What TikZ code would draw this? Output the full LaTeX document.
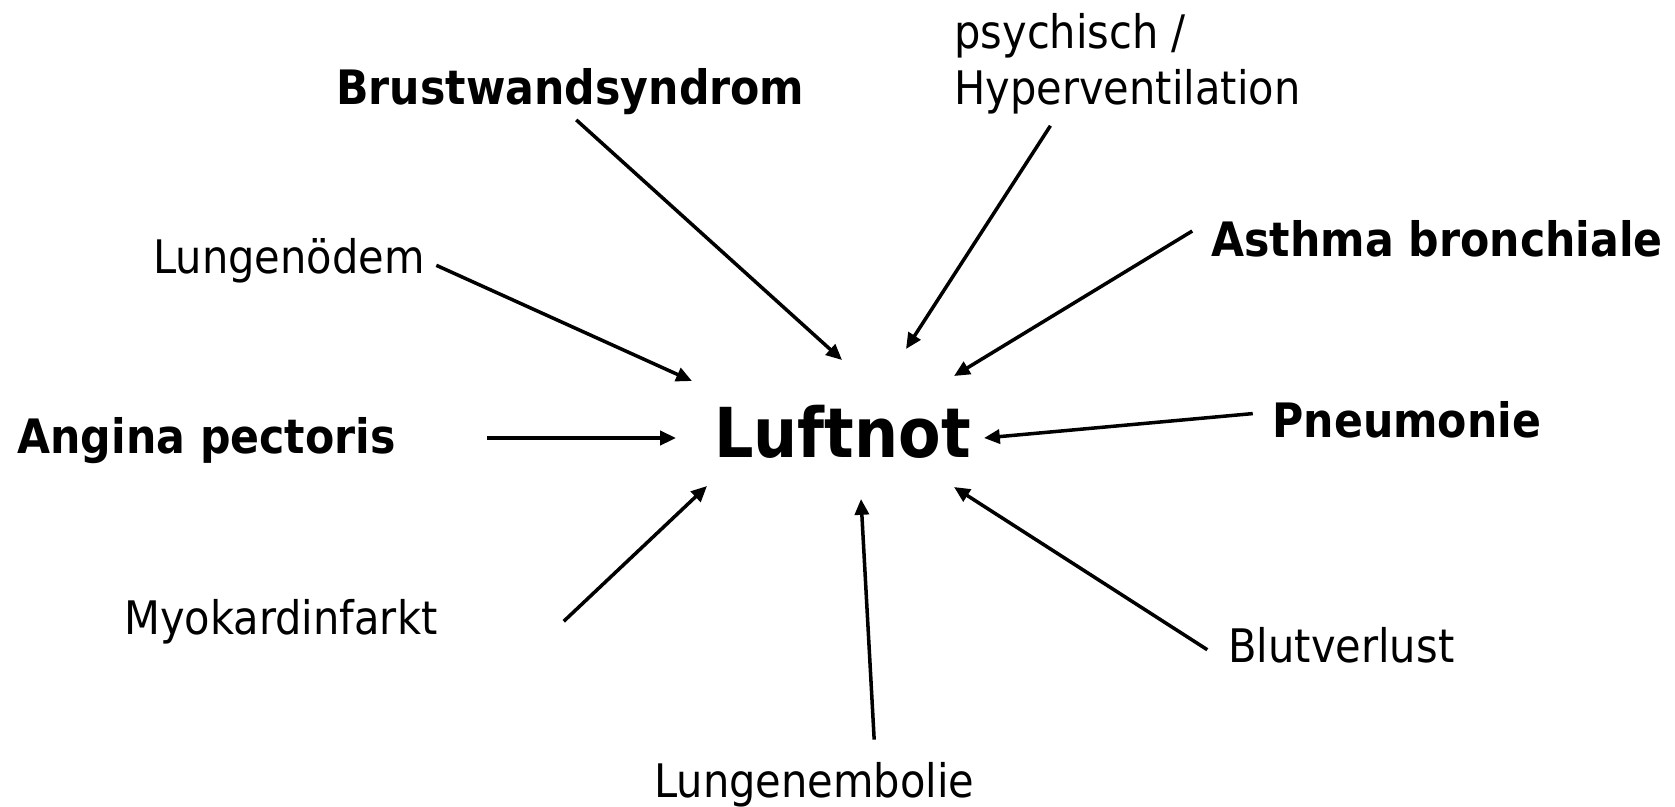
\documentclass[tikz,border=0pt]{standalone}
\usepackage{fontspec}
\setmainfont{DejaVu Sans}[FakeStretch=0.9]
\usetikzlibrary{arrows.meta,calc}

\tikzset{
  cause/.style={inner sep=0pt, anchor=base west, font=\fontsize{26.3}{31.8}\selectfont},
  major/.style={inner sep=0pt, anchor=base west, font=\fontsize{27}{32}\selectfont\bfseries},
  symptom/.style={inner sep=0pt, anchor=base west, font=\fontsize{39.2}{45}\selectfont\bfseries},
  arr/.style={-{Triangle[length=9pt,width=8pt]}, line width=2pt},
}

\begin{document}
\begin{tikzpicture}[x=0.02cm,y=-0.02cm]
  \useasboundingbox (0,0) rectangle (1675,806);
  %\draw [help lines] (0,0) grid (1675,806);
  \node[symptom] (luftnot) at (714,457) {Luftnot};

  \node[major] (brust) at (336,104) {Brustwandsyndrom};
  \node[cause, align=left] (psych) at (954,104) {psychisch /\\Hyperventilation};
  \node[cause] (oedem) at (153,273) {Lungenödem};
  \node[major] (asthma) at (1211,256) {Asthma bronchiale};
  \node[major] (angina) at (17,453) {Angina pectoris};
  \node[major] (pneu) at (1272,437) {Pneumonie};
  \node[cause] (myo) at (124,634) {Myokardinfarkt};
  \node[cause] (blut) at (1228,662) {Blutverlust};
  \node[cause] (embolie) at (654,797) {Lungenembolie};

  % arrow tips round Luftnot
  \coordinate (in-brust) at (842,360);
  \coordinate (in-psych) at (906,349);
  \coordinate (in-oedem) at (692,381);
  \coordinate (in-asthma) at (954,376);
  \coordinate (in-angina) at (676,438);
  \coordinate (in-pneu) at (984,438);
  \coordinate (in-myo) at (707,486);
  \coordinate (in-embolie) at (861,499);
  \coordinate (in-blut) at (954,487);

  \draw[arr, shorten <=4.5pt] (brust.south) -- (in-brust);
  \draw[arr, shorten <=8pt] ($(psych.south west)!0.3!(psych.south east)$) -- (in-psych);
  \draw[arr, shorten <=7pt] (oedem.east) -- (in-oedem);
  \draw[arr, shorten <=12.5pt] (asthma.north west) -- (in-asthma);
  \draw[arr, shorten <=52pt] (angina.east |- in-angina) -- (in-angina);
  \draw[arr, shorten <=11pt] ($(pneu.north west)!0.3!(pneu.south west)$) -- (in-pneu);
  \draw[arr] ([shift={(126,0)}]myo.east) -- (in-myo);
  \draw[arr, shorten <=12.5pt] ($(embolie.north west)!0.69!(embolie.north east)$) -- (in-embolie);
  \draw[arr, shorten <=14pt] (blut.south west) -- (in-blut);
\end{tikzpicture}
\end{document}
